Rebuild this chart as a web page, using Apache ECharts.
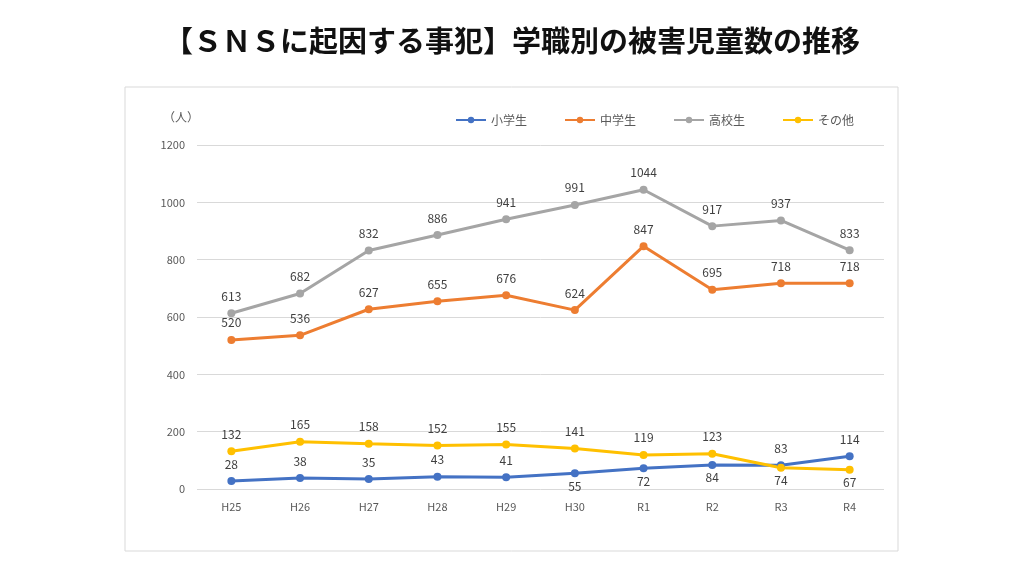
<!DOCTYPE html>
<html><head><meta charset="utf-8">
<script src="https://cdn.jsdelivr.net/npm/echarts@6/dist/echarts.min.js"></script>
<style>html,body{margin:0;padding:0;background:#fff}#c{width:1024px;height:561px}</style>
</head><body><div id="c"></div>
<script>
const categories = ['H25','H26','H27','H28','H29','H30','R1','R2','R3','R4'];
const elementary = [28,38,35,43,41,55,72,84,83,114];
const juniorHigh = [520,536,627,655,676,624,847,695,718,718];
const highSchool = [613,682,832,886,941,991,1044,917,937,833];
const others = [132,165,158,152,155,141,119,123,74,67];
const seriesNames = ['小学生','中学生','高校生','その他'];
const yTicks = [0,200,400,600,800,1000,1200];

const font = '"Noto Sans CJK JP", "Noto Sans", sans-serif';
const chart = echarts.init(document.getElementById('c'));
function mk(name, vals, color, belowIdx) {
  return {
    name, type: 'line', data: vals.map((v, i) => belowIdx.includes(i) ? {value: v, label: {position: 'bottom', distance: 3}} : v),
    symbol: 'circle', symbolSize: 8, lineStyle: {width: 3, color}, itemStyle: {color},
    label: {show: true, position: 'top', distance: 7, color: '#404040', fontSize: 12, fontFamily: font},
    z: 3
  };
}
chart.setOption({
  backgroundColor: '#fff',
  animation: false,
  title: {text: '【ＳＮＳに起因する事犯】学職別の被害児童数の推移', left: 'center', top: 21,
    textStyle: {fontSize: 29, fontWeight: 'bold', color: '#111', fontFamily: font}},
  graphic: [
    {type: 'rect', shape: {x: 125, y: 87, width: 773, height: 464}, style: {fill: 'none', stroke: '#d9d9d9', lineWidth: 1}, z: -1},
    {type: 'text', left: 163, top: 111, style: {text: '（人）', fill: '#595959', fontSize: 12, fontFamily: font}}
  ],
  legend: {top: 109, left: 450, itemWidth: 30, itemHeight: 8, itemGap: 37,
    textStyle: {color: '#595959', fontSize: 12, fontFamily: font},
    data: seriesNames},
  grid: {left: 197, right: 140, top: 145, bottom: 72, containLabel: false},
  xAxis: {type: 'category', data: categories, boundaryGap: true,
    axisLine: {show: false}, axisTick: {show: false},
    axisLabel: {color: '#595959', fontSize: 11, margin: 12, fontFamily: font}},
  yAxis: {type: 'value', min: 0, max: 1200, interval: 200,
    axisLine: {show: false}, axisTick: {show: false},
    splitLine: {lineStyle: {color: '#d9d9d9'}},
    axisLabel: {color: '#595959', fontSize: 11, margin: 12, fontFamily: font,
      formatter: v => yTicks.includes(v) ? String(v) : ''}},
  series: [
    mk(seriesNames[0], elementary, '#4472C4', [5,6,7]),
    mk(seriesNames[1], juniorHigh, '#ED7D31', []),
    mk(seriesNames[2], highSchool, '#A5A5A5', []),
    mk(seriesNames[3], others, '#FFC000', [8,9])
  ]
});
</script></body></html>
